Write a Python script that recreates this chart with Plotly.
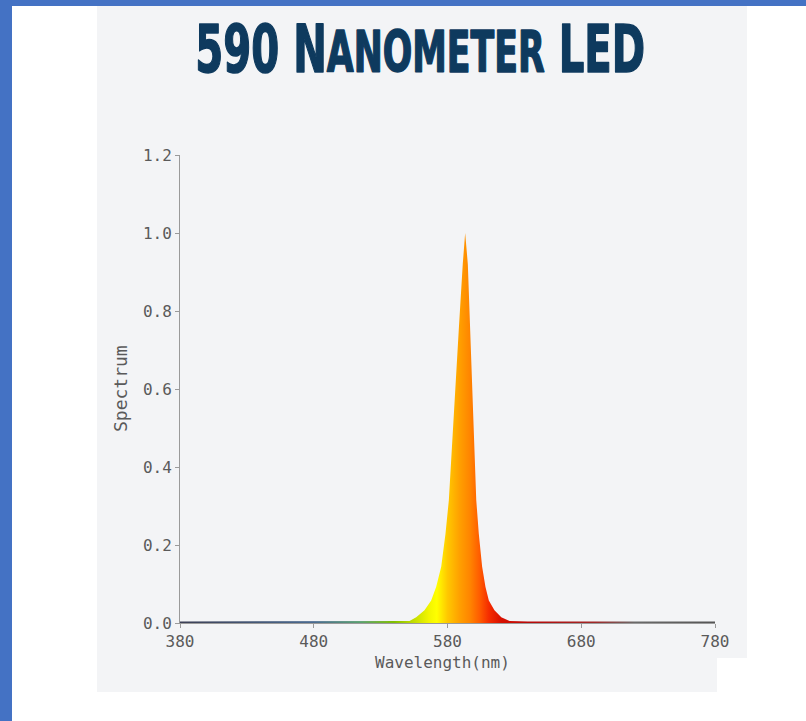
import plotly.graph_objects as go

# ---- data -------------------------------------------------------------
wavelength_nm = [380, 420, 460, 500, 520, 535, 545, 551.6, 556.6, 562.8, 567.8,
                 571.5, 575.3, 578.5, 581.0, 584.0, 588.4, 591.4, 593.2, 595.2,
                 596.9, 599.4, 601.5, 603.4, 605.9, 608.4, 610.9, 615.1, 620.2,
                 626.4, 640, 680, 720, 780]
spectrum = [0.004, 0.004, 0.004, 0.004, 0.004, 0.004, 0.004, 0.005, 0.015, 0.033, 0.058,
            0.092, 0.144, 0.229, 0.315, 0.50, 0.75, 0.92, 1.00, 0.92,
            0.75, 0.50, 0.315, 0.229, 0.144, 0.092, 0.058, 0.033, 0.015,
            0.005, 0.004, 0.004, 0.004, 0.004]

x_ticks = [380, 480, 580, 680, 780]
y_ticks = [0.0, 0.2, 0.4, 0.6, 0.8, 1.0, 1.2]

# colour of light along the wavelength axis
color_nm = [380, 480, 515, 540, 556, 566, 572, 580, 589, 597, 604, 611, 620, 640, 690, 720, 780]
color_hex = ["#3c3f55", "#4a6a90", "#5aa070", "#80c000", "#c8e000", "#f2f500", "#ffff00",
             "#ffc800", "#ffa000", "#ff8400", "#ff5c00", "#f52c00", "#d81000", "#b80808",
             "#a02828", "#6a6a6a", "#555555"]

TITLE = "590 N<span style='font-size:57px'>ANOMETER</span> LED"

# ---- layout geometry (pixels) -----------------------------------------
W, H = 806, 721
ML, MR, MT, MB = 180, 91, 155, 98
PW, PH = W - ML - MR, H - MT - MB


def fx(px):
    return (px - ML) / PW


def fy(py):
    return 1 - (py - MT) / PH


lo, hi = color_nm[0], color_nm[-1]
scale = [[(n - lo) / (hi - lo), c] for n, c in zip(color_nm, color_hex)]

fig = go.Figure()
fig.add_trace(go.Scatter(
    x=wavelength_nm, y=spectrum, mode="lines",
    line=dict(width=0, color="#ff9000"),
    fill="tozeroy",
    fillgradient=dict(type="horizontal", colorscale=scale, start=lo, stop=hi),
    hoverinfo="skip", showlegend=False,
))

panel_path = "M {} {} L {} {} L {} {} L {} {} L {} {} L {} {} Z".format(
    fx(97), fy(6), fx(747), fy(6), fx(747), fy(658),
    fx(717), fy(658), fx(717), fy(692), fx(97), fy(692))

shapes = [
    dict(type="path", path=panel_path, xref="paper", yref="paper",
         fillcolor="#f3f4f6", line=dict(width=0), layer="below"),
    dict(type="rect", xref="paper", yref="paper", x0=fx(0), x1=fx(W), y0=fy(0), y1=fy(6),
         fillcolor="#4472c4", line=dict(width=0), layer="below"),
    dict(type="rect", xref="paper", yref="paper", x0=fx(0), x1=fx(12), y0=fy(0), y1=fy(H),
         fillcolor="#4472c4", line=dict(width=0), layer="below"),
]

mono = "DejaVu Sans Mono, Liberation Mono, monospace"
axis_col = "#9a9a9a"
label_col = "#5a5a5a"

annotations = [
    dict(text=TITLE, xref="paper", yref="paper", x=fx(420), y=fy(50),
         xanchor="center", yanchor="middle", showarrow=False,
         font=dict(family="DejaVu Sans Condensed, DejaVu Sans, sans-serif",
                   size=66, color="#0e3a5e", weight="bold")),
    dict(text="Wavelength(nm)", xref="paper", yref="paper", x=fx(442), y=fy(662),
         xanchor="center", yanchor="middle", showarrow=False,
         font=dict(family=mono, size=16, color=label_col)),
    dict(text="Spectrum", xref="paper", yref="paper", x=fx(120), y=fy(389),
         xanchor="center", yanchor="middle", showarrow=False, textangle=-90,
         font=dict(family=mono, size=18, color=label_col)),
]

fig.update_layout(
    width=W, height=H,
    margin=dict(l=ML, r=MR, t=MT, b=MB, pad=0),
    paper_bgcolor="#ffffff", plot_bgcolor="rgba(0,0,0,0)",
    shapes=shapes, annotations=annotations, showlegend=False,
)
fig.update_xaxes(range=[380, 780], tickvals=x_ticks, showline=True, linecolor=axis_col,
                 linewidth=1, ticks="outside", ticklen=4, tickcolor=axis_col,
                 showgrid=False, zeroline=False,
                 tickfont=dict(family=mono, size=16, color=label_col))
fig.update_yaxes(range=[0, 1.2], tickvals=y_ticks, tickformat=".1f", showline=True,
                 linecolor=axis_col, linewidth=1, ticks="outside", ticklen=4,
                 tickcolor=axis_col, showgrid=False, zeroline=False,
                 tickfont=dict(family=mono, size=16, color=label_col))

# condense the heading horizontally to the banner width
post = """
var gd = document.getElementById('{plot_id}');
var t = gd.querySelector('g.annotation[data-index="0"] text');
if (t) {
  var w = t.getBBox().width;
  t.style.stroke = '#0e3a5e';
  t.style.strokeWidth = '1.5px';
  t.style.strokeLinejoin = 'round';
  t.style.transformBox = 'fill-box';
  t.style.transformOrigin = 'center';
  t.style.transform = 'scale(' + (450 / w) + ',1)';
}
"""

fig.write_html("out.html", post_script=post)
